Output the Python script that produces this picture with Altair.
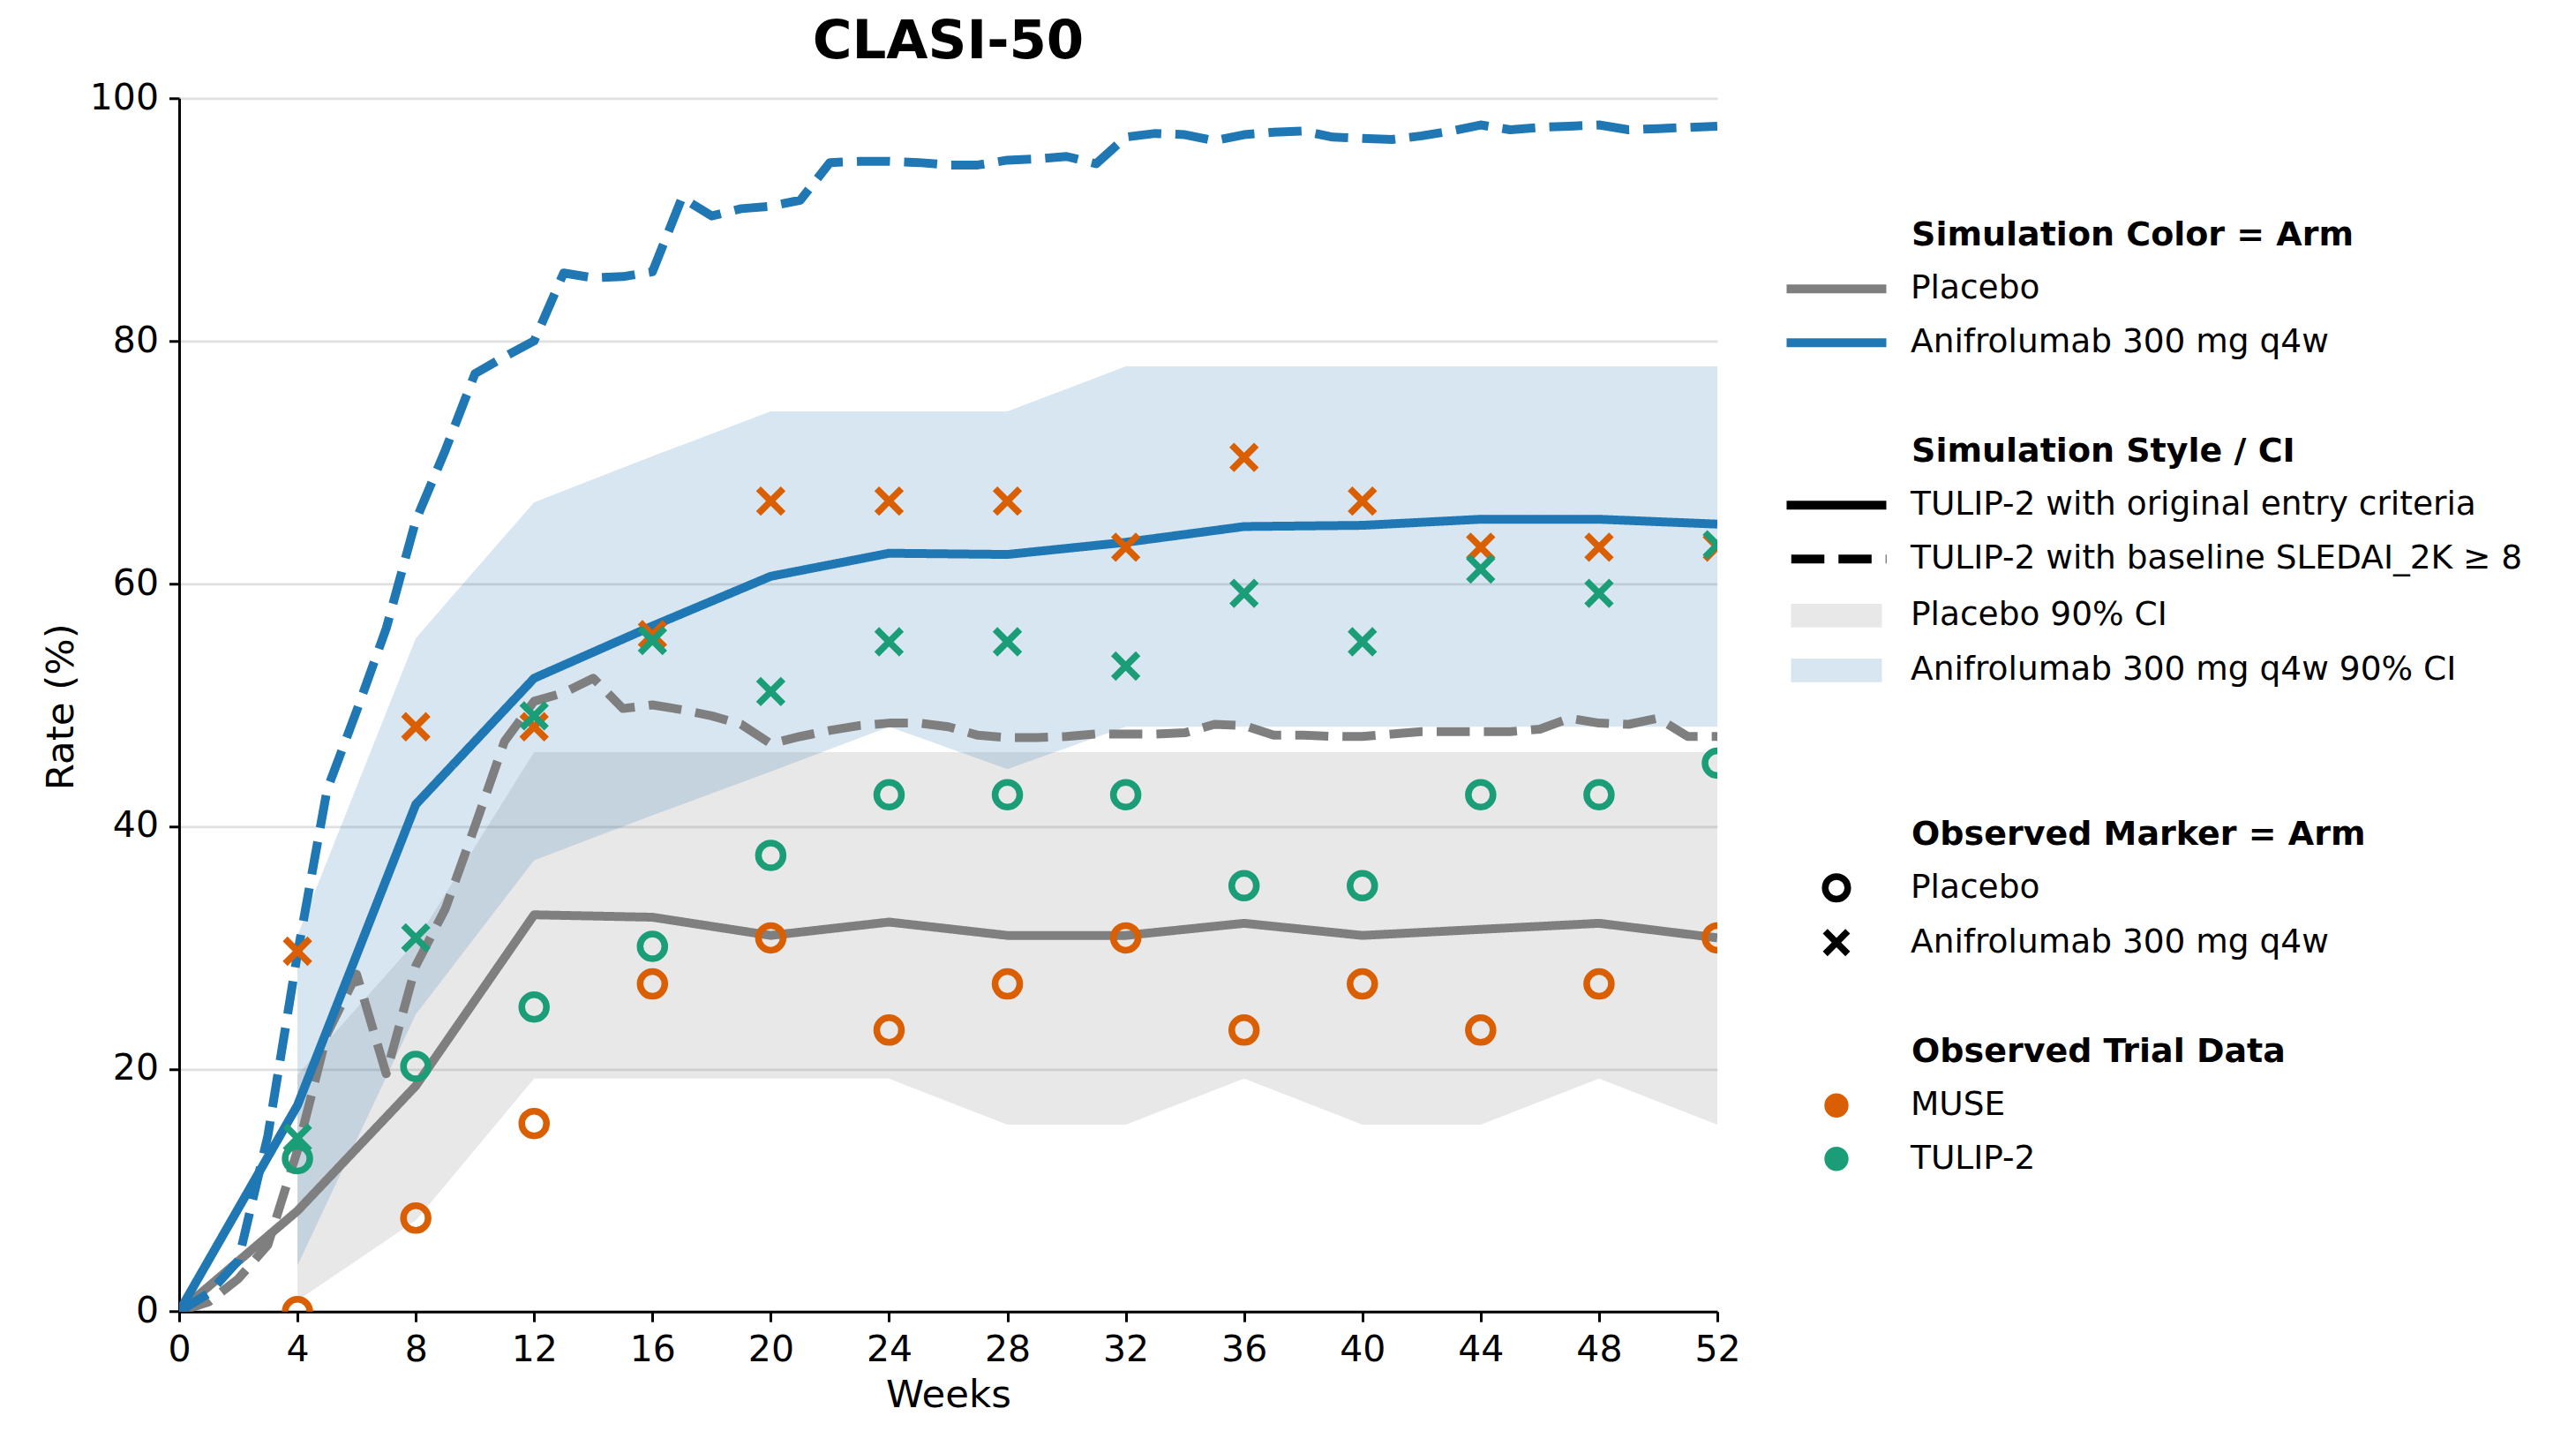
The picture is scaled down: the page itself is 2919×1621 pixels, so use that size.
import altair as alt
import pandas as pd

# leading zero-width space keeps the no-break spaces from being trimmed
PAD = "\u200b" + "\u00a0" * 11

# ---------------- data ----------------
ARMS = ["Placebo", "Anifrolumab 300 mg q4w"]
STYLES = ["TULIP-2 with original entry criteria", "TULIP-2 with baseline SLEDAI_2K \u2265 8"]
CI_LABELS = ["Placebo 90% CI", "Anifrolumab 300 mg q4w 90% CI"]
OBS_ARMS = ["pbo_obs", "anif_obs"]
STUDIES = ["MUSE", "TULIP-2"]

# simulation, original entry criteria (every 4 weeks)
weeks_4 = list(range(0, 53, 4))
pbo_original = [0.0, 8.3, 18.6, 32.7, 32.5, 31.0, 32.1, 31.0, 31.0, 32.0, 31.0, 31.5, 32.0, 30.8]
anif_original = [0.0, 17.0, 41.8, 52.2, 56.5, 60.6, 62.5, 62.4, 63.4, 64.7, 64.8, 65.3, 65.3, 64.9]

# simulation, baseline SLEDAI_2K >= 8 (weekly)
weeks_1 = list(range(0, 53))
pbo_sledai = [0.0, 0.8, 2.7, 5.5, 13.3, 22.9, 27.8, 19.6, 28.5, 33.2,
              40.0, 47.0, 50.3, 51.0, 52.2, 49.7, 50.0, 49.6, 49.1, 48.4,
              46.8, 47.4, 47.9, 48.3, 48.5, 48.5, 48.2, 47.5, 47.3, 47.3,
              47.4, 47.6, 47.6, 47.6, 47.7, 48.4, 48.3, 47.5, 47.5, 47.4,
              47.4, 47.6, 47.8, 47.8, 47.8, 47.8, 48.0, 48.9, 48.5, 48.4,
              48.9, 47.4, 47.4]
anif_sledai = [0.0, 1.5, 4.2, 14.5, 29.5, 43.0, 49.5, 56.3, 65.2, 71.0,
               77.3, 78.7, 80.0, 85.6, 85.2, 85.3, 85.7, 91.8, 90.3, 90.9,
               91.1, 91.6, 94.7, 94.8, 94.8, 94.7, 94.5, 94.5, 94.9, 95.0,
               95.2, 94.6, 96.8, 97.1, 97.0, 96.5, 97.0, 97.2, 97.3, 96.8,
               96.7, 96.6, 96.9, 97.3, 97.8, 97.4, 97.6, 97.7, 97.8, 97.4,
               97.5, 97.6, 97.7]

# 90% confidence bands
weeks_ci = list(range(4, 53, 4))
pbo_ci_lo = [0.9, 7.5, 19.2, 19.2, 19.2, 19.2, 15.4, 15.4, 19.2, 15.4, 15.4, 19.2, 15.4]
pbo_ci_hi = [19.5, 30.5, 46.1, 46.1, 46.1, 46.1, 46.1, 46.1, 46.1, 46.1, 46.1, 46.1, 46.1]
anif_ci_lo = [3.8, 24.5, 37.2, 40.9, 44.5, 48.2, 44.7, 48.2, 48.2, 48.2, 48.2, 48.2, 48.2]
anif_ci_hi = [31.0, 55.5, 66.7, 70.5, 74.2, 74.2, 74.2, 77.9, 77.9, 77.9, 77.9, 77.9, 77.9]

# observed trial data
weeks_obs = list(range(4, 53, 4))
muse_pbo = [0.0, 7.7, 15.5, 27.0, 30.8, 23.2, 27.0, 30.8, 23.2, 27.0, 23.2, 27.0, 30.8]
muse_anif = [29.7, 48.2, 48.2, 55.8, 66.8, 66.8, 66.8, 63.0, 70.4, 66.8, 63.0, 63.0, 63.0]
tulip_pbo = [12.6, 20.2, 25.1, 30.1, 37.6, 42.6, 42.6, 42.6, 35.1, 35.1, 42.6, 42.6, 45.2]
tulip_anif = [14.3, 30.8, 49.1, 55.3, 51.1, 55.2, 55.2, 53.2, 59.2, 55.2, 61.2, 59.2, 63.2]

# ---------------- tables ----------------
line_rows = []
for arm, style, wk, vals in [
    (ARMS[0], STYLES[0], weeks_4, pbo_original),
    (ARMS[0], STYLES[1], weeks_1, pbo_sledai),
    (ARMS[1], STYLES[0], weeks_4, anif_original),
    (ARMS[1], STYLES[1], weeks_1, anif_sledai),
]:
    for w, v in zip(wk, vals):
        line_rows.append({"week": w, "rate": v, "arm": arm, "style": style})
lines_df = pd.DataFrame(line_rows)

pbo_ci_df = pd.DataFrame({"week": weeks_ci, "lo": pbo_ci_lo, "hi": pbo_ci_hi, "ci": CI_LABELS[0]})
anif_ci_df = pd.DataFrame({"week": weeks_ci, "lo": anif_ci_lo, "hi": anif_ci_hi, "ci": CI_LABELS[1]})

obs_rows = []
idx = 0
for study, arm, vals in [
    (STUDIES[0], OBS_ARMS[0], muse_pbo),
    (STUDIES[0], OBS_ARMS[1], muse_anif),
    (STUDIES[1], OBS_ARMS[0], tulip_pbo),
    (STUDIES[1], OBS_ARMS[1], tulip_anif),
]:
    for w, v in zip(weeks_obs, vals):
        obs_rows.append({"week": w, "rate": v, "study": study, "arm_obs": arm, "idx": idx})
        idx += 1
obs_df = pd.DataFrame(obs_rows)

# ---------------- styling ----------------
FONT = "DejaVu Sans"
GRAY = "#7f7f7f"
BLUE = "#1f77b4"
ORANGE = "#d95f02"
GREEN = "#1b9e77"


def bezier_circle(r):
    k = 0.5523 * r
    return (f"M{r},0C{r},{k},{k},{r},0,{r}C{-k},{r},{-r},{k},{-r},0"
            f"C{-r},{-k},{-k},{-r},0,{-r}C{k},{-r},{r},{-k},{r},0Z")


# marker shapes; plot size 784 -> 14 px, legend size 655 -> 12.8 px
XMARK = "M-1,-1L1,1M-1,1L1,-1"
# legend glyphs drawn with symbolSize 400 (1 unit = 10 px)
LEG_LINE = "M-5.65,0H5.65"
LEG_PATCH = "M-5.15,-1.335H5.15V1.335H-5.15Z"
LEG_DOT = bezier_circle(0.375) + bezier_circle(0.995)

LEG_X = 1817.6
SYM_OFF = 41.65
LAB_OFF = 65.25

x_enc = alt.X(
    "week:Q",
    scale=alt.Scale(domain=[0, 52], nice=False, zero=False),
    axis=alt.Axis(values=weeks_4, title="Weeks", grid=False,
                  titleBaseline="alphabetic", titleY=108.3),
)
y_scale = alt.Scale(domain=[0, 100], nice=False, zero=False)
y_axis = alt.Axis(values=[0, 20, 40, 60, 80, 100], title="Rate (%)", grid=True,
                  titleAngle=270, titleBaseline="alphabetic", titleX=-120.3,
                  titleY=689, titleAlign="center")

fill_enc = alt.Fill(
    "ci:N",
    scale=alt.Scale(domain=CI_LABELS, range=[GRAY, BLUE]),
    legend=alt.Legend(title=None, orient="none", legendX=LEG_X, legendY=567.25,
                      symbolType=LEG_PATCH, symbolSize=400, symbolStrokeWidth=0,
                      symbolOffset=SYM_OFF, labelOffset=LAB_OFF, rowPadding=23),
)

band_pbo = alt.Chart(pbo_ci_df).mark_area(opacity=0.18).encode(
    x=x_enc, y=alt.Y("lo:Q", scale=y_scale, axis=y_axis), y2="hi:Q", fill=fill_enc
)
band_anif = alt.Chart(anif_ci_df).mark_area(opacity=0.18).encode(
    x=x_enc, y=alt.Y("lo:Q", scale=y_scale, axis=y_axis), y2="hi:Q", fill=fill_enc
)

lines = alt.Chart(lines_df).mark_line(
    strokeWidth=10, strokeJoin="round", strokeCap="butt", clip=True
).encode(
    x=x_enc,
    y=alt.Y("rate:Q", scale=y_scale, axis=y_axis),
    stroke=alt.Stroke(
        "arm:N",
        scale=alt.Scale(domain=ARMS, range=[GRAY, BLUE]),
        legend=alt.Legend(title=PAD + "Simulation Color = Arm", orient="none",
                          legendX=LEG_X, legendY=137.0, symbolType=LEG_LINE,
                          symbolSize=400, symbolStrokeWidth=10,
                          symbolOffset=SYM_OFF, labelOffset=LAB_OFF, rowPadding=20),
    ),
    strokeDash=alt.StrokeDash(
        "style:N",
        scale=alt.Scale(domain=STYLES, range=[[1, 0], [37.5, 16]]),
        legend=alt.Legend(title=PAD + "Simulation Style / CI", orient="none",
                          legendX=LEG_X, legendY=382.0, symbolType=LEG_LINE,
                          symbolSize=400, symbolStrokeWidth=10,
                          symbolStrokeColor="black", symbolDashOffset=48.2,
                          symbolOffset=SYM_OFF, labelOffset=LAB_OFF, rowPadding=20),
    ),
)

points = alt.Chart(obs_df).mark_point(
    filled=False, size=784, strokeWidth=7.5, opacity=1, clip=True
).encode(
    x=x_enc,
    y=alt.Y("rate:Q", scale=y_scale, axis=y_axis),
    shape=alt.Shape(
        "arm_obs:N",
        scale=alt.Scale(domain=OBS_ARMS, range=["circle", XMARK]),
        legend=alt.Legend(title=PAD + "Observed Marker = Arm", orient="none",
                          legendX=LEG_X, legendY=815.4, symbolSize=655,
                          symbolStrokeWidth=7.5, symbolStrokeColor="black",
                          symbolFillColor="transparent",
                          symbolOffset=SYM_OFF, labelOffset=LAB_OFF, rowPadding=5,
                          labelExpr="datum.value == 'pbo_obs' ? 'Placebo' : 'Anifrolumab 300 mg q4w'"),
    ),
    color=alt.Color(
        "study:N",
        scale=alt.Scale(domain=STUDIES, range=[ORANGE, GREEN]),
        legend=alt.Legend(title=PAD + "Observed Trial Data", orient="none",
                          legendX=LEG_X, legendY=1062.0, symbolType=LEG_DOT,
                          symbolSize=400, symbolStrokeWidth=7.5,
                          symbolOffset=SYM_OFF, labelOffset=LAB_OFF, rowPadding=9.5),
    ),
    order=alt.Order("idx:Q"),
)

chart = alt.layer(band_pbo, band_anif, lines, points).properties(
    width=1743,
    height=1374.4,
    title=alt.TitleParams("CLASI-50", fontSize=61, fontWeight="bold", font=FONT,
                          anchor="middle", frame="group", baseline="top",
                          offset=11, color="black"),
    padding={"left": 195, "top": 103.3, "right": 960, "bottom": 120},
    autosize=alt.AutoSizeParams(type="none"),
    background="white",
).configure(font=FONT).configure_axis(
    domainColor="black", domainWidth=3, tickColor="black", tickWidth=3, tickSize=11.5,
    labelFontSize=41, labelColor="black", labelPadding=12, labelFont=FONT,
    labelFlush=False, titleFontSize=43.5, titleColor="black", titleFontWeight="normal",
    titleFont=FONT, gridColor="#e0e0e0", gridWidth=2.7,
).configure_legend(
    labelFontSize=37.5, labelColor="black", labelFont=FONT, labelLimit=2000,
    titleFontSize=38, titleFontWeight="bold", titleColor="black", titleFont=FONT,
    titleLimit=2000, padding=0, rowPadding=20.5, titlePadding=22.25,
).configure_view(strokeWidth=0)

chart.save("out.html", embed_options={"renderer": "svg", "actions": False})
